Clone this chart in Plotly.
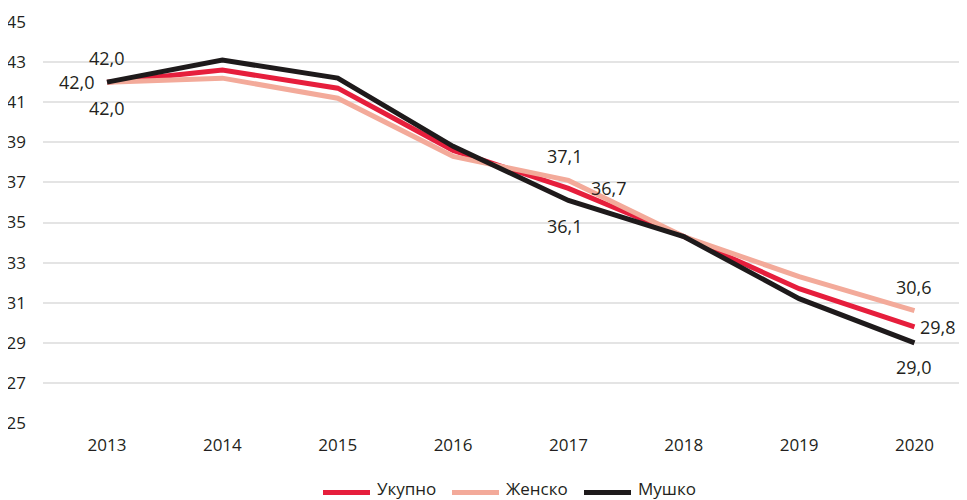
import plotly.graph_objects as go

years = [2013, 2014, 2015, 2016, 2017, 2018, 2019, 2020]
ukupno = [42.0, 42.6, 41.7, 38.6, 36.7, 34.3, 31.7, 29.8]
zensko = [42.0, 42.2, 41.2, 38.3, 37.1, 34.3, 32.3, 30.6]
musko = [42.0, 43.1, 42.2, 38.8, 36.1, 34.3, 31.2, 29.0]
series_names = ["Укупно", "Женско", "Мушко"]
colors = ["#E61E3C", "#F3AA9A", "#1E1A1B"]
y_ticks = [25, 27, 29, 31, 33, 35, 37, 39, 41, 43, 45]

FONT = "Open Sans"
TEXT = "#231F20"

# the page body adds an 8px offset; the figure fills the visible rest
OFF = 8
W, H = 959 - OFF, 500 - OFF
plot_l, plot_r = 43 - OFF, 959 - OFF
plot_t, plot_b = 22.3 - OFF, 422.7 - OFF

fig = go.Figure()
for name, vals, col in zip(series_names, [ukupno, zensko, musko], colors):
    fig.add_trace(go.Scatter(x=years, y=vals, name=name, mode="lines",
                             line=dict(color=col, width=5),
                             hoverinfo="skip", showlegend=False))

def fmt(v):
    return f"{v:.1f}".replace(".", ",")

# labels: (series values, year index, xshift, yshift, anchor)
labels = [
    (musko, 0, 0, 24, "center"),
    (ukupno, 0, -10, 0, "right"),
    (zensko, 0, 0, -26, "center"),
    (zensko, 4, -3, 24, "center"),
    (ukupno, 4, 21, 0, "left"),
    (musko, 4, -3, -26, "center"),
    (zensko, 7, 0, 24, "center"),
    (ukupno, 7, 44, 0, "right"),
    (musko, 7, 0, -24, "center"),
]
for vals, i, xs, ys, anc in labels:
    fig.add_annotation(x=years[i], y=vals[i], text=fmt(vals[i]), showarrow=False,
                       xshift=xs, yshift=ys, xanchor=anc, yanchor="middle",
                       font=dict(family=FONT, size=18, color=TEXT))

# manual legend below the plot (paper coordinates)
plot_w = plot_r - plot_l
plot_h = plot_b - plot_t
def px(xp):
    return (xp - OFF - plot_l) / plot_w
def py(yp):
    return (plot_b - (yp - OFF)) / plot_h
leg_starts = [323, 452, 584]
for name, col, x0 in zip(series_names, colors, leg_starts):
    fig.add_shape(type="line", xref="paper", yref="paper",
                  x0=px(x0), x1=px(x0 + 47), y0=py(492), y1=py(492),
                  line=dict(color=col, width=5))
    fig.add_annotation(xref="paper", yref="paper", x=px(x0 + 52), y=py(488.5),
                       text=name, showarrow=False, xanchor="left", yanchor="middle",
                       font=dict(family=FONT, size=17, color=TEXT))

fig.update_layout(
    width=W, height=H,
    margin=dict(l=plot_l, r=W - plot_r, t=plot_t, b=H - plot_b, autoexpand=False),
    paper_bgcolor="white", plot_bgcolor="white",
    font=dict(family=FONT, size=17, color=TEXT),
    showlegend=False,
)
fig.update_xaxes(range=[2012.445, 2020.386], tickmode="array", tickvals=years,
                 ticktext=[str(y) for y in years], showgrid=False, zeroline=False,
                 showline=False, ticks="", ticklabelstandoff=10)
fig.update_yaxes(range=[25, 45], tickmode="array", tickvals=y_ticks,
                 ticktext=[str(t) for t in y_ticks], showgrid=True,
                 gridcolor="#E4E4E4", gridwidth=1.5, zeroline=False,
                 showline=False, ticks="", ticklabelstandoff=16)

fig.write_html("out.html")
